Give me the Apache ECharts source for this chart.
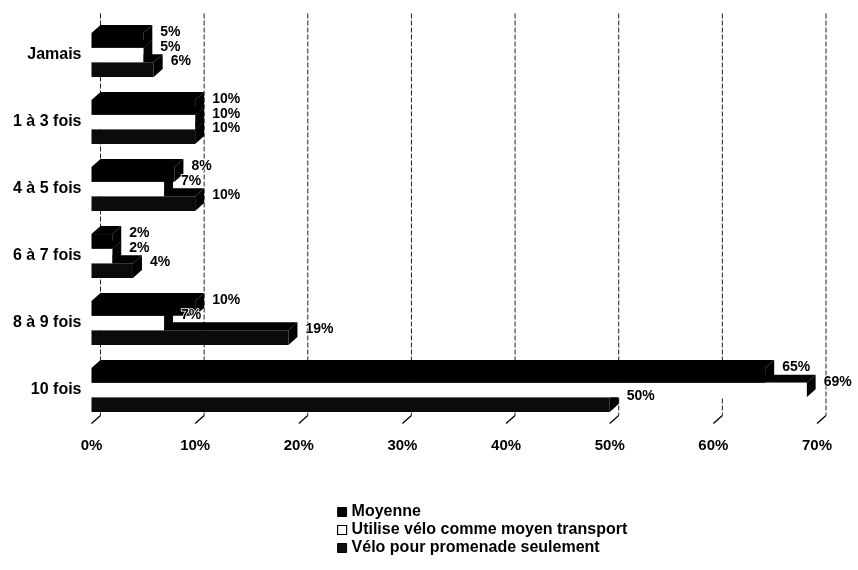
<!DOCTYPE html>
<html>
<head>
<meta charset="utf-8">
<script src="https://cdn.jsdelivr.net/npm/echarts@6/dist/echarts.min.js"></script>
<style>
  html, body { margin: 0; padding: 0; background: #fff; }
  #chart { width: 858px; height: 570px; }
</style>
</head>
<body>
<div id="chart"></div>
<script>
// Frequency categories (top to bottom)
const categories = ['Jamais', '1 à 3 fois', '4 à 5 fois', '6 à 7 fois', '8 à 9 fois', '10 fois'];

// Series names
const seriesNames = [
  'Moyenne',
  'Utilise vélo comme moyen transport',
  'Vélo pour promenade seulement'
];

// Percentages per category
const moyenne   = [5, 10, 8, 2, 10, 65];
const transport = [5, 10, 7, 2, 7, 69];
const promenade = [6, 10, 10, 4, 19, 50];

// Value axis ticks (percent)
const xTicks = [0, 10, 20, 30, 40, 50, 60, 70];

// Depth of the pseudo-3D extrusion and bar spacing
const DX = 9, DY = 8;
const CATEGORY_GAP = 0.345;

const FONT = '"Liberation Sans", Arial, sans-serif';

// Face colours per series: [front, top, side]
const faces = [
  ['#000000', '#000000', '#000000'],
  ['#ffffff', '#050505', '#050505'],
  ['#0b0b0b', '#000000', '#000000']
];

function barGeom(api, seriesIdx) {
  const v = api.value(0), cat = api.value(1);
  const base = api.coord([0, cat]);
  const end = api.coord([v, cat]);
  const band = api.size([0, 1])[1];
  const groupH = band * (1 - CATEGORY_GAP);
  const h = groupH / 3;
  const y = base[1] - groupH / 2 + seriesIdx * h;
  return { x0: base[0], x1: end[0], y: y, h: h };
}

function barRenderer(seriesIdx) {
  const [front, top, side] = faces[seriesIdx];
  return function (params, api) {
    const g = barGeom(api, seriesIdx);
    const { x0, x1, y, h } = g;
    return {
      type: 'group',
      children: [
        { type: 'polygon',
          shape: { points: [[x0, y], [x0 + DX, y - DY], [x1 + DX, y - DY], [x1, y]] },
          style: { fill: top } },
        { type: 'polygon',
          shape: { points: [[x1, y], [x1 + DX, y - DY], [x1 + DX, y + h - DY], [x1, y + h]] },
          style: { fill: side } },
        { type: 'rect',
          shape: { x: x0, y: y, width: Math.max(0, x1 - x0), height: h },
          style: { fill: front } }
      ]
    };
  };
}

function labelRenderer(seriesIdx) {
  return function (params, api) {
    const g = barGeom(api, seriesIdx);
    return {
      type: 'text',
      style: {
        x: g.x1 + DX + 8,
        y: g.y + g.h / 2 - 8,
        text: api.value(0) + '%',
        fill: '#000',
        stroke: '#fff',
        lineWidth: 1.5,
        font: 'bold 14px ' + FONT,
        textAlign: 'left',
        textVerticalAlign: 'middle'
      }
    };
  };
}

// Back-wall gridlines and slanted floor ticks
function wallRenderer(params, api) {
  const cs = params.coordSys;
  const x = api.coord([api.value(0), 0])[0];
  const top = cs.y, bottom = cs.y + cs.height;
  return {
    type: 'group',
    children: [
      { type: 'line',
        shape: { x1: x + DX, y1: top - DY, x2: x + DX, y2: bottom - DY },
        style: { stroke: '#222', lineWidth: 1, lineDash: [5, 2] } },
      { type: 'line',
        shape: { x1: x, y1: bottom, x2: x + DX, y2: bottom - DY },
        style: { stroke: '#000', lineWidth: 1.3 } }
    ]
  };
}

const seriesData = [moyenne, transport, promenade];

const series = [
  {
    type: 'custom',
    name: '_wall',
    renderItem: wallRenderer,
    data: xTicks.map(v => [v, 0]),
    encode: { x: 0, y: 1 },
    clip: false,
    silent: true,
    z: 1
  }
];

seriesData.forEach((vals, s) => {
  series.push({
    type: 'custom',
    name: seriesNames[s],
    renderItem: barRenderer(s),
    data: vals.map((v, i) => [v, i]),
    encode: { x: 0, y: 1 },
    clip: false,
    itemStyle: { color: s === 1 ? '#ffffff' : '#000000' },
    z: 4 - s
  });
});

seriesData.forEach((vals, s) => {
  series.push({
    type: 'custom',
    name: '_labels' + s,
    renderItem: labelRenderer(s),
    data: vals.map((v, i) => [v, i]),
    encode: { x: 0, y: 1 },
    clip: false,
    silent: true,
    z: 8
  });
});

const chart = echarts.init(document.getElementById('chart'), null, { renderer: 'canvas' });

chart.setOption({
  animation: false,
  backgroundColor: '#ffffff',
  grid: { left: 91.5, top: 21.5, width: 725.5, height: 402, containLabel: false },
  xAxis: {
    type: 'value',
    min: 0,
    max: 70,
    interval: 10,
    axisLine: { show: false },
    axisTick: { show: false },
    splitLine: { show: false },
    axisLabel: {
      formatter: '{value}%',
      color: '#000',
      fontFamily: FONT,
      fontWeight: 'bold',
      fontSize: 15,
      margin: 15
    }
  },
  yAxis: {
    type: 'category',
    data: categories,
    inverse: true,
    axisLine: { show: false },
    axisTick: { show: false },
    splitLine: { show: false },
    axisLabel: {
      color: '#000',
      fontFamily: FONT,
      fontWeight: 'bold',
      fontSize: 16,
      margin: 10
    }
  },
  legend: {
    orient: 'vertical',
    left: 332,
    top: 499,
    itemWidth: 9,
    itemHeight: 9,
    itemGap: 2,
    selectedMode: false,
    icon: 'rect',
    textStyle: {
      color: '#000',
      fontFamily: FONT,
      fontWeight: 'bold',
      fontSize: 16,
      lineHeight: 16,
      padding: [0, 0, 0, 0]
    },
    data: [
      { name: seriesNames[0], itemStyle: { color: '#000', borderColor: '#000', borderWidth: 1 } },
      { name: seriesNames[1], itemStyle: { color: '#fff', borderColor: '#000', borderWidth: 1.2 } },
      { name: seriesNames[2], itemStyle: { color: '#111', borderColor: '#000', borderWidth: 1 } }
    ]
  },
  series: series
});
</script>
</body>
</html>
